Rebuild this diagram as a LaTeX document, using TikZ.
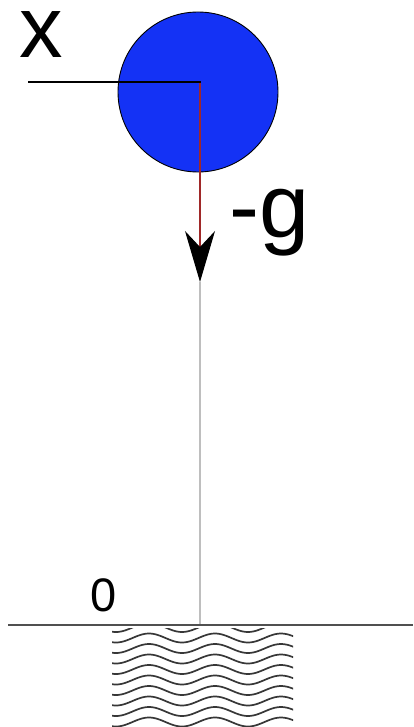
\documentclass[tikz,border=0pt]{standalone}
\usepackage{fontspec}
\setmainfont{Liberation Sans}
\usetikzlibrary{arrows.meta}
\definecolor{ballblue}{RGB}{20,50,245}
\definecolor{arrred}{RGB}{160,40,40}
\definecolor{vgray}{RGB}{190,190,190}
\definecolor{ggray}{RGB}{80,80,80}
\definecolor{wgray}{RGB}{55,55,55}
\begin{document}
\begin{tikzpicture}[x=1pt,y=-1pt,
  ball/.style={circle, draw=black, line width=0.9pt, fill=ballblue, inner sep=0pt, minimum size=160pt},
  lbl/.style={inner sep=0pt, anchor=base west, text=black},
  xline/.style={draw=black, line width=1.1pt},
  fline/.style={draw=arrred, line width=1.2pt},
  vline/.style={draw=vgray, line width=1.4pt},
  gline/.style={draw=ggray, line width=1.8pt},
  wave/.style={draw=wgray, line width=1.7pt}]
\useasboundingbox (0,0) rectangle (413,727);
\fill[white] (0,0) rectangle (413,727);
% ball
\node[ball] (ball) at (198,92) {};
% labels
\node[lbl, font=\fontsize{87}{87}\selectfont] (xl) at (19,58) {x};
\node[lbl, font=\fontsize{90}{90}\selectfont] (gl) at (229,237) {-g};
\node[lbl, font=\fontsize{47}{47}\selectfont] (zl) at (90,611) {0};
% coordinates
\coordinate (xs) at (28,82);
\coordinate (xc) at (201,82);
\coordinate (fc) at (200,83);
\coordinate (tip) at (200,282);
\coordinate (gnd) at (200,624);
\coordinate (gl1) at (8,625);
\coordinate (gl2) at (413,625);
% lines
\draw[xline] (xs) -- (xc);
\draw[fline, -{Stealth[length=51pt, width=30pt, inset=16pt, black]}] (fc) -- (tip);
\draw[vline] (tip) -- (gnd);
\draw[gline] (gl1) -- (gl2);
% waves
\begin{scope}
\clip (112,628) rectangle (293,727);
\foreach \k in {0,...,10}{
  \draw[wave] plot[domain=105:300, samples=90, smooth]
    (\x, {627.5 + 10.5*\k + 4.5*cos(5.4545*(\x-116))});
}
\end{scope}
\end{tikzpicture}
\end{document}
